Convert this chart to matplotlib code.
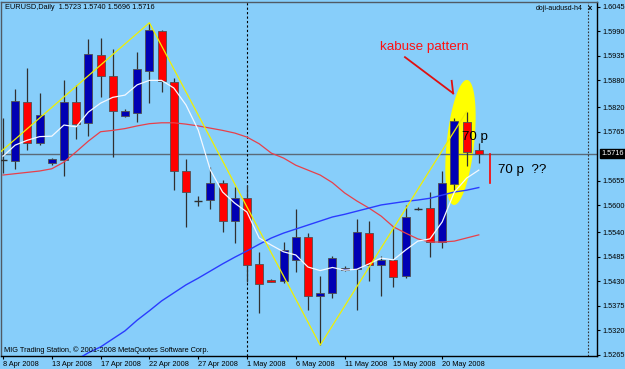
#!/usr/bin/env python
# -*- coding: utf-8 -*-
"""Redraw an EURUSD daily MT4 screenshot with a marked kabuse pattern."""

import matplotlib
matplotlib.use("Agg")
import matplotlib.pyplot as plt
import numpy as np
from matplotlib.patches import Polygon, Rectangle


BAR_DATES = [
    "8 Apr", "9 Apr", "10 Apr", "11 Apr", "13 Apr", "14 Apr", "15 Apr", "16 Apr",
    "17 Apr", "18 Apr", "20 Apr", "21 Apr", "22 Apr", "23 Apr", "24 Apr", "25 Apr",
    "27 Apr", "28 Apr", "29 Apr", "30 Apr", "1 May", "2 May", "4 May", "5 May",
    "6 May", "7 May", "8 May", "9 May", "11 May", "12 May", "13 May", "14 May",
    "15 May", "16 May", "18 May", "19 May", "20 May", "21 May", "22 May", "23 May",
]

opens = [
    1.5702, 1.5699, 1.5832, 1.5740, 1.5695, 1.5702, 1.5831, 1.5784, 1.5937, 1.5889,
    1.5800, 1.5808, 1.5902, 1.5991, 1.5877, 1.5677, 1.5610, 1.5611, 1.5651, 1.5566,
    1.5617, 1.5468, 1.5434, 1.5431, 1.5478, 1.5530, 1.5397, 1.5403, 1.5455, 1.5457,
    1.5538, 1.5466, 1.5477, 1.5442, 1.5593, 1.5594, 1.5519, 1.5648, 1.5787, 1.5723,
]
highs = [
    1.5796, 1.5861, 1.5908, 1.5852, 1.5707, 1.5881, 1.5870, 1.5972, 1.5976, 1.5950,
    1.5816, 1.5943, 1.6009, 1.5993, 1.5886, 1.5705, 1.5620, 1.5686, 1.5657, 1.5642,
    1.5646, 1.5496, 1.5435, 1.5519, 1.5591, 1.5538, 1.5442, 1.5487, 1.5465, 1.5569,
    1.5565, 1.5487, 1.5552, 1.5601, 1.5596, 1.5631, 1.5676, 1.5795, 1.5810, 1.5740,
]
lows = [
    1.5672, 1.5681, 1.5723, 1.5735, 1.5690, 1.5666, 1.5748, 1.5755, 1.5843, 1.5709,
    1.5798, 1.5787, 1.5829, 1.5855, 1.5634, 1.5552, 1.5598, 1.5591, 1.5541, 1.5515,
    1.5429, 1.5358, 1.5428, 1.5426, 1.5451, 1.5366, 1.5287, 1.5393, 1.5453, 1.5366,
    1.5431, 1.5396, 1.5418, 1.5437, 1.5590, 1.5484, 1.5504, 1.5634, 1.5688, 1.5696,
]
closes = [
    1.5702, 1.5834, 1.5740, 1.5802, 1.5704, 1.5831, 1.5782, 1.5939, 1.5889, 1.5811,
    1.5811, 1.5905, 1.5993, 1.5879, 1.5677, 1.5629, 1.5610, 1.5650, 1.5565, 1.5616,
    1.5466, 1.5424, 1.5429, 1.5500, 1.5530, 1.5397, 1.5404, 1.5483, 1.5460, 1.5540,
    1.5466, 1.5477, 1.5440, 1.5573, 1.5593, 1.5519, 1.5650, 1.5790, 1.5720, 1.5716,
]

# fast moving average (white), one value per bar
fast_ma = [
    1.5710, 1.5735, 1.5746, 1.5754, 1.5755, 1.5780, 1.5776, 1.5809, 1.5829, 1.5842,
    1.5847, 1.5870, 1.5880, 1.5880, 1.5863, 1.5825, 1.5769, 1.5679, 1.5630, 1.5605,
    1.5585, 1.5527, 1.5511, 1.5496, 1.5489, 1.5462, 1.5454, 1.5461, 1.5455, 1.5457,
    1.5469, 1.5482, 1.5478, 1.5500, 1.5520, 1.5525, 1.5563, 1.5630, 1.5661, 1.5679,
]
# medium moving average (red)
mid_ma = [
    1.5668, 1.5671, 1.5674, 1.5677, 1.5682, 1.5697, 1.5720, 1.5744, 1.5765, 1.5768,
    1.5772, 1.5778, 1.5783, 1.5785, 1.5785, 1.5782, 1.5778, 1.5773, 1.5768, 1.5762,
    1.5753, 1.5738, 1.5717, 1.5706, 1.5690, 1.5679, 1.5668, 1.5651, 1.5628, 1.5610,
    1.5594, 1.5576, 1.5552, 1.5538, 1.5525, 1.5518, 1.5518, 1.5520, 1.5527, 1.5534,
]
# slow moving average (blue), starts at bar 5
SLOW_MA_START = 5
slow_ma = [
    1.5238, 1.5254, 1.5270, 1.5283, 1.5301, 1.5319, 1.5343, 1.5364, 1.5386, 1.5404,
    1.5422, 1.5437, 1.5453, 1.5469, 1.5484, 1.5498, 1.5513, 1.5527, 1.5538, 1.5547,
    1.5556, 1.5565, 1.5574, 1.5580, 1.5587, 1.5594, 1.5601, 1.5605, 1.5609, 1.5612,
    1.5616, 1.5623, 1.5630, 1.5634, 1.5640,
]

zigzag_bars = [-2, 12, 26, 38]
zigzag_prices = [1.5677, 1.6009, 1.5287, 1.5810]

price_ticks = [1.6045, 1.5990, 1.5935, 1.5880, 1.5820, 1.5765, 1.5655, 1.5600,
               1.5540, 1.5485, 1.5430, 1.5375, 1.5320, 1.5265]
LAST_PRICE = 1.5716
MONTH_SEPARATOR_BAR = 20

BG = "#87cefa"
BULL = "#0000b4"
BEAR = "#ff0000"
WICK = "#303030"
FONT = "Liberation Sans"


def draw_candles(ax):
    """Draw MT4-style candlesticks."""
    width = 0.66
    for i, (o, h, l, c) in enumerate(zip(opens, highs, lows, closes)):
        ax.vlines(i, l, h, color=WICK, linewidth=0.9, zorder=3)
        color = BULL if c >= o else BEAR
        if abs(c - o) < 0.00005:
            ax.hlines(o, i - width / 2, i + width / 2, color=WICK, linewidth=1.0, zorder=4)
            continue
        ax.add_patch(Rectangle((i - width / 2, min(o, c)), width, abs(c - o),
                               facecolor=color, edgecolor="#505050",
                               linewidth=0.6, zorder=4))


def draw_ellipse(ax, cx, cy, a, b, shear):
    """Yellow highlight ellipse leaning slightly to the right."""
    t = np.linspace(0, 2 * np.pi, 120)
    xs = cx + a * np.cos(t) + shear * np.sin(t)
    ys = cy + b * np.sin(t)
    ax.add_patch(Polygon(np.column_stack([xs, ys]), closed=True,
                         facecolor="#ffff00", edgecolor="none", zorder=1))


def main():
    fig = plt.figure(figsize=(6.25, 3.69), dpi=100, facecolor=BG)
    ax = fig.add_axes([0.0024, 0.0352, 0.9528, 0.9607], facecolor=BG)

    bars = np.arange(len(closes))
    draw_ellipse(ax, 37.5, 1.5741, 1.13, 0.0140, 0.52)
    draw_candles(ax)

    ax.axhline(LAST_PRICE, color="#5a6a78", linewidth=1.0, zorder=2)
    ax.axvline(MONTH_SEPARATOR_BAR, color="black", linewidth=0.8,
               linestyle=(0, (2, 2)), zorder=2)
    ax.axvline(47.95, color="#333333", linewidth=0.8,
               linestyle=(0, (1.5, 1.5)), zorder=2)

    ax.plot(bars, mid_ma, color="#e8404a", linewidth=0.9, zorder=5)
    ax.plot(bars[SLOW_MA_START:], slow_ma, color="#2a3cff", linewidth=1.0, zorder=5)
    ax.plot(bars, fast_ma, color="#f4f8ff", linewidth=0.9, zorder=5)
    ax.plot(zigzag_bars, zigzag_prices, color="#f0f000", linewidth=0.9, zorder=6)

    # annotations drawn on the chart
    ax.text(34.5, 1.5954, "kabuse pattern", color="#ff1010", fontsize=9.6,
            family=FONT, ha="center", va="center", zorder=8)
    ax.plot([32.95, 36.9], [1.5932, 1.5851], color="#e01010", linewidth=1.3, zorder=8)
    ax.plot([36.9, 36.78], [1.5851, 1.5879], color="#e01010", linewidth=1.3, zorder=8)
    ax.text(37.6, 1.5754, "70 p", color="black", fontsize=9.6, family=FONT,
            ha="left", va="center", zorder=8)
    ax.text(40.6, 1.5679, "70 p  ??", color="black", fontsize=9.6, family=FONT,
            ha="left", va="center", zorder=8)
    ax.plot([39.9, 39.9], [LAST_PRICE, 1.5651], color="#ff0000", linewidth=1.2, zorder=8)

    ax.set_xlim(-0.12, 48.69)
    ax.set_ylim(1.52627, 1.60566)

    tick_bars = list(range(0, len(BAR_DATES), 4))
    ax.set_xticks(tick_bars)
    ax.set_xticklabels(["{0} 2008".format(BAR_DATES[i]) for i in tick_bars],
                       ha="left", fontsize=5.3, family=FONT)
    ax.yaxis.tick_right()
    ax.set_yticks(price_ticks)
    ax.set_yticklabels(["{0:.4f}".format(v) for v in price_ticks],
                       fontsize=5.3, family=FONT)
    ax.tick_params(axis="both", direction="out", length=2.5, width=0.8,
                   color="black", pad=1.5)
    ax.tick_params(axis="x", pad=1.0)
    for side, spine in ax.spines.items():
        spine.set_color("black" if side in ("bottom", "right") else "#505a64")
        spine.set_linewidth(1.0)

    ax.annotate("{0:.4f}".format(LAST_PRICE), xy=(1.0, LAST_PRICE),
                xycoords=("axes fraction", "data"), xytext=(3, 0),
                textcoords="offset points", va="center", ha="left",
                fontsize=5.3, family=FONT, color="white",
                bbox=dict(boxstyle="square,pad=0.15", facecolor="black",
                          edgecolor="black"), annotation_clip=False)

    fig.text(5 / 625, 1 - 7.5 / 369,
             "EURUSD,Daily  1.5723 1.5740 1.5696 1.5716",
             fontsize=5.3, family=FONT, va="center", ha="left")
    fig.text(583 / 625, 1 - 9 / 369, "doji-audusd-h4", fontsize=5.0,
             family=FONT, va="center", ha="right")
    fig.text(590 / 625, 1 - 9 / 369, "x", fontsize=5.5, family=FONT,
             fontweight="bold", va="center", ha="center")
    fig.text(4 / 625, 1 - 350 / 369,
             "MIG Trading Station, \u00a9 2001-2008 MetaQuotes Software Corp.",
             fontsize=5.3, family=FONT, va="center", ha="left")

    fig.savefig("out.png", dpi=100, facecolor=BG)
    plt.close(fig)
    return 0


if __name__ == "__main__":
    raise SystemExit(main())
